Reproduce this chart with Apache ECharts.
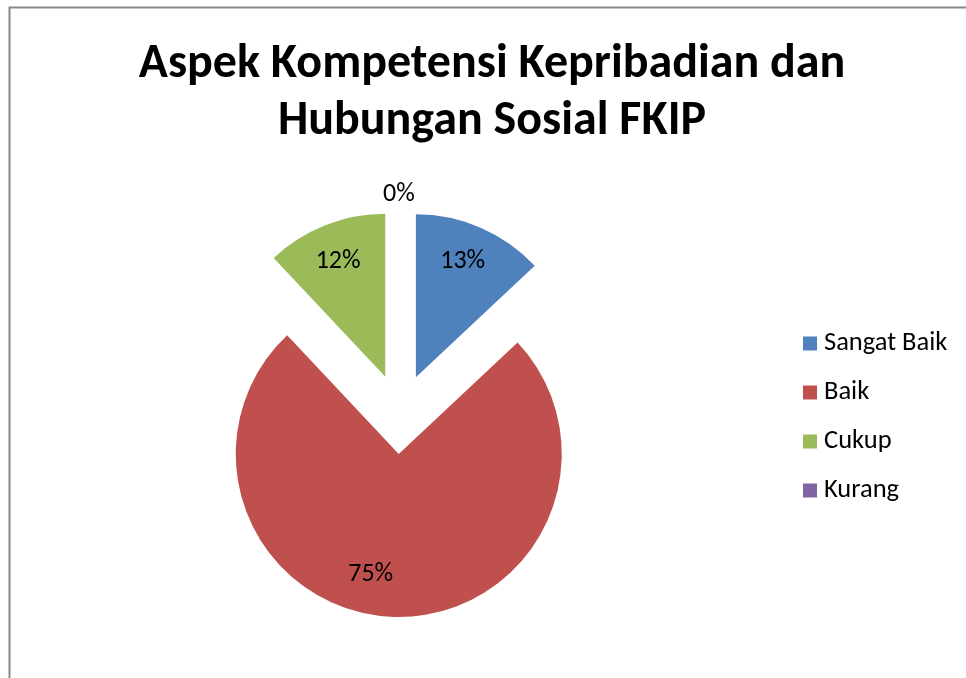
<!DOCTYPE html>
<html>
<head>
<meta charset="utf-8">
<script src="https://cdn.jsdelivr.net/npm/echarts@6/dist/echarts.min.js"></script>
<style>
html,body{margin:0;padding:0;background:#fff;}
#chart{width:966px;height:678px;}
</style>
</head>
<body>
<div id="chart"></div>
<script>
const titleText = 'Aspek Kompetensi Kepribadian dan\nHubungan Sosial FKIP';
const categories = ['Sangat Baik', 'Baik', 'Cukup', 'Kurang'];
const values = [13, 75, 12, 0];
const colors = ['#4F81BD', '#C0504D', '#9BBB59', '#8064A2'];

const FONT = 'Calibri, Carlito, Lato, sans-serif';
const chart = echarts.init(document.getElementById('chart'), null, {renderer: 'canvas'});

const pieCenter = [400, 414];
const R = 163;
const OFFSET = 40;

const solidData = categories.map((c, i) => ({
  name: c, value: values[i], selected: true,
  itemStyle: {color: colors[i]}
}));
const labelShift = [[-4, 2], [-24, -7], [0, 4], [-1, -52]];
const labelData = categories.map((c, i) => ({
  name: c, value: values[i], selected: true
}));

chart.setOption({
  animation: false,
  backgroundColor: '#ffffff',
  title: {
    text: titleText,
    left: 487, top: 31, textAlign: 'center',
    textStyle: {fontFamily: FONT, fontWeight: 'bold', fontSize: 48, lineHeight: 57, color: '#000'}
  },
  legend: {
    orient: 'vertical', left: 798, top: 325,
    icon: 'rect', itemWidth: 14, itemHeight: 14, itemGap: 22,
    data: categories,
    selectedMode: false,
    textStyle: {fontFamily: FONT, fontSize: 26.5, lineHeight: 26, color: '#000', padding: [0, 0, 0, 2]}
  },
  graphic: [{
    type: 'rect', shape: {x: 9.5, y: 7.5, width: 1000, height: 700},
    style: {fill: 'none', stroke: '#888888', lineWidth: 2}, silent: true
  }],
  series: [
    {
      type: 'pie', center: pieCenter, radius: R, startAngle: 90, clockwise: true,
      selectedMode: 'multiple', selectedOffset: OFFSET, silent: true,
      avoidLabelOverlap: false,
      label: {show: false}, labelLine: {show: false},
      itemStyle: {borderWidth: 0},
      select: {itemStyle: {borderWidth: 0}},
      emphasis: {disabled: true},
      data: solidData
    },
    {
      type: 'pie', center: pieCenter, radius: [87, R], startAngle: 90, clockwise: true,
      selectedMode: 'multiple', selectedOffset: OFFSET, silent: true,
      avoidLabelOverlap: false,
      itemStyle: {color: 'rgba(0,0,0,0)', borderWidth: 0},
      select: {itemStyle: {color: 'rgba(0,0,0,0)', borderWidth: 0}},
      emphasis: {disabled: true},
      label: {show: true, position: 'inside', formatter: '{c}%', fontFamily: FONT, fontSize: 26, color: '#000'},
      labelLine: {show: false},
      labelLayout: function (p) {
        const s = labelShift[p.dataIndex];
        return {dx: s[0], dy: s[1]};
      },
      data: labelData
    }
  ]
});
</script>
</body>
</html>
